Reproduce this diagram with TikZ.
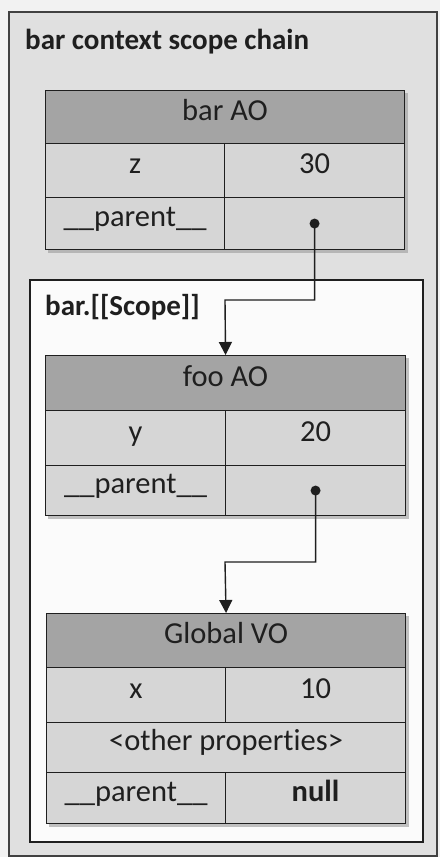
\documentclass[tikz,border=0pt]{standalone}
\usepackage{fontspec}
\setmainfont{Carlito}[Ligatures=NoCommon]
\usetikzlibrary{arrows.meta}
\definecolor{pagebg}{HTML}{F2F2F2}
\definecolor{outerbg}{HTML}{E0E0E0}
\definecolor{innerbg}{HTML}{FBFBFB}
\definecolor{headfill}{HTML}{A4A4A4}
\definecolor{cellfill}{HTML}{D6D6D6}
\definecolor{shade}{HTML}{9A9A9A}
\definecolor{ink}{HTML}{1F1F1F}
\tikzset{
  cellbox/.style={draw=ink, line width=1.1pt, fill=cellfill, inner sep=0pt,
    anchor=north west, text=ink, font=\fontsize{30.5}{32}\selectfont,
    text height=0.64em, text depth=0pt},
  headbox/.style={cellbox, fill=headfill},
  boxlabel/.style={anchor=west, inner sep=0pt, text=ink,
    font=\fontsize{29}{31}\selectfont\bfseries},
  link/.style={draw=ink, line width=1.4pt, -{Triangle[length=13pt,width=13pt]}},
  linkdot/.style={fill=ink},
  tableshadow/.style={fill=shade, opacity=0.6}
}
\begin{document}
\begin{tikzpicture}[x=1pt,y=-1pt]
  % page area
  \fill[pagebg] (0,0) rectangle (440,857);
  \useasboundingbox (0,0) rectangle (440,857);

  % outer frame: the scope chain of bar's context
  \draw[draw=ink!85, line width=1.5pt, fill=outerbg] (9,12) rectangle (437,856);
  \node[boxlabel] (chainlabel) at (25,42) {bar context scope chain};

  % inner frame: bar.[[Scope]]
  \draw[draw=ink, line width=1.5pt, fill=innerbg] (30,280) rectangle (423,842);
  \node[boxlabel] (scopelabel) at (45,307) {bar.[[Scope]]};

  % drop shadows under the tables
  \fill[tableshadow] (48,93) rectangle (408,253);
  \fill[tableshadow] (48,358) rectangle (409,519);
  \fill[tableshadow] (49,616) rectangle (409,827);

  % bar AO
  \node[headbox, minimum width=359pt, minimum height=53pt] (barH) at (45,90) {bar AO};
  \node[cellbox, minimum width=179pt, minimum height=54pt] (barZk) at (45,143) {z};
  \node[cellbox, minimum width=180pt, minimum height=54pt] (barZv) at (224,143) {30};
  \node[cellbox, minimum width=179pt, minimum height=52pt] (barPk) at (45,197) {\_\_parent\_\_};
  \node[cellbox, minimum width=180pt, minimum height=52pt] (barPv) at (224,197) {};

  % foo AO
  \node[headbox, minimum width=360pt, minimum height=55pt] (fooH) at (45,355) {foo AO};
  \node[cellbox, minimum width=180pt, minimum height=55pt] (fooYk) at (45,410) {y};
  \node[cellbox, minimum width=180pt, minimum height=55pt] (fooYv) at (225,410) {20};
  \node[cellbox, minimum width=180pt, minimum height=50pt] (fooPk) at (45,465) {\_\_parent\_\_};
  \node[cellbox, minimum width=180pt, minimum height=50pt] (fooPv) at (225,465) {};

  % Global VO
  \node[headbox, minimum width=359pt, minimum height=54pt] (gloH) at (46,613) {Global VO};
  \node[cellbox, minimum width=179pt, minimum height=55pt] (gloXk) at (46,667) {x};
  \node[cellbox, minimum width=180pt, minimum height=55pt] (gloXv) at (225,667) {10};
  \node[cellbox, minimum width=359pt, minimum height=50pt] (gloO) at (46,722) {<other properties>};
  \node[cellbox, minimum width=179pt, minimum height=51pt] (gloPk) at (46,772) {\_\_parent\_\_};
  \node[cellbox, minimum width=180pt, minimum height=51pt] (gloPv) at (225,772) {\textbf{null}};

  % __parent__ links
  \coordinate (bendA) at (225,300);
  \coordinate (bendB) at (225,562);
  \fill[linkdot] (barPv.center) circle (5pt);
  \draw[link] (barPv.center) |- (bendA) -- (fooH.north);
  \fill[linkdot] (fooPv.center) circle (5pt);
  \draw[link] (fooPv.center) |- (bendB) -- (gloH.north);
\end{tikzpicture}
\end{document}
